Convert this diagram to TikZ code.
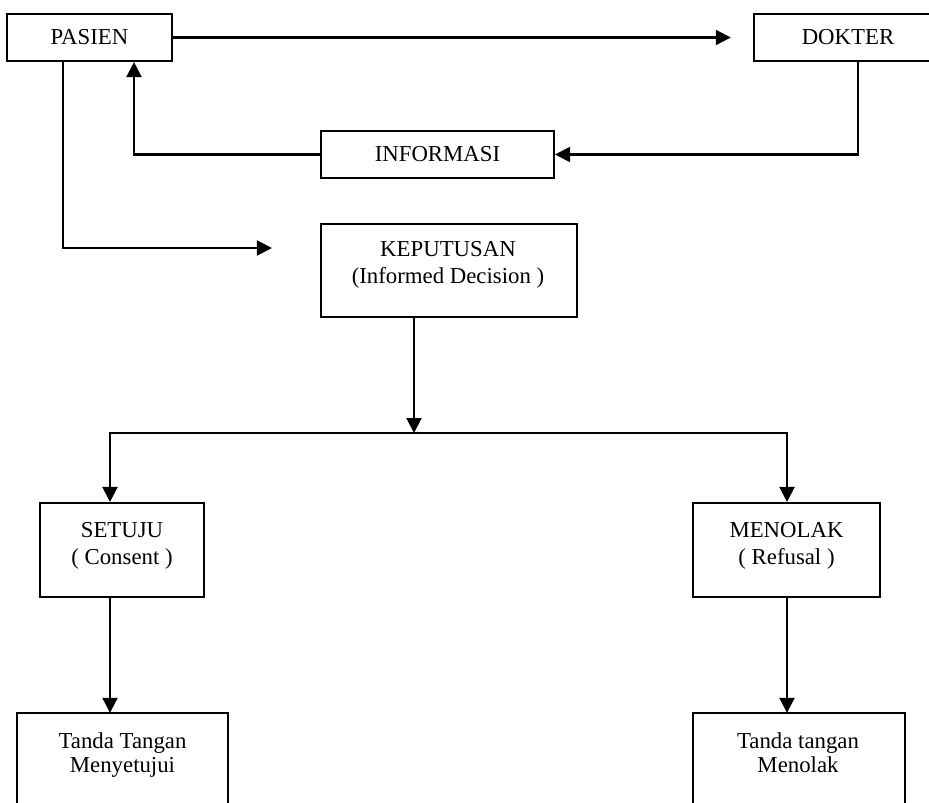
\documentclass[tikz,border=0pt]{standalone}
\usepackage{fontspec}
\setmainfont{Liberation Serif}
\usetikzlibrary{arrows.meta}
\begin{document}
\begin{tikzpicture}[x=1pt,y=-1pt,
  every node/.style={font=\fontsize{22.8}{27}\selectfont, inner sep=0pt, align=center},
  box/.style={draw, line width=2.1pt, rectangle},
  openbox/.style={rectangle},
  lbl/.style={},
  tight/.style={font=\fontsize{22.8}{23.5}\selectfont, anchor=north},
  line/.style={line width=2.1pt},
  arr/.style={line width=2.1pt, -{Triangle[length=15pt,width=15pt]}}]
\useasboundingbox[fill=white] (0,0) rectangle (929,803);

% boxes
\node[box, minimum width=165pt, minimum height=47pt] (pasien) at (89.5,37.5) {PASIEN};
\node[openbox, minimum width=175pt, minimum height=47pt] (dokter) at (841.5,37.5) {\hspace*{13pt}DOKTER};
\node[box, minimum width=233pt, minimum height=47pt] (informasi) at (437.5,154.5) {INFORMASI};
\node[box, minimum width=256pt, minimum height=93pt] (keputusan) at (449,270.5) {};
\node[box, minimum width=164pt, minimum height=94pt] (setuju) at (122,550) {};
\node[box, minimum width=187pt, minimum height=94pt] (menolak) at (786.5,550) {};
\node[openbox, minimum width=211pt, minimum height=90pt] (ttsetuju) at (122.5,758) {};
\node[openbox, minimum width=212pt, minimum height=90pt] (ttmenolak) at (799,758) {};

% texts of the boxes
\node[lbl] (keputusanlbl) at (448,265) {KEPUTUSAN\\(Informed Decision )};
\node[lbl] (setujulbl) at (122,546) {SETUJU\\( Consent )};
\node[lbl] (menolaklbl) at (786.5,546) {MENOLAK\\( Refusal )};
\node[lbl, tight] (ttsetujulbl) at (122.5,732.5) {Tanda Tangan\\Menyetujui};
\node[lbl, tight] (ttmenolaklbl) at (798,732.5) {Tanda tangan\\Menolak};

% open boxes (cut by the picture edge)
\draw[line] (dokter.north east) -- (dokter.north west) -- (dokter.south west) -- (dokter.south east);
\draw[line] (ttsetuju.south west) -- (ttsetuju.north west) -- (ttsetuju.north east) -- (ttsetuju.south east);
\draw[line] (ttmenolak.south west) -- (ttmenolak.north west) -- (ttmenolak.north east) -- (ttmenolak.south east);

\coordinate (split) at (414,433);

% connectors
\draw[arr] (pasien.east) -- ([xshift=-23pt]dokter.west);
\draw[arr] ([xshift=16.5pt]dokter.south) |- (informasi.east);
\draw[arr] (informasi.west) -| ([xshift=44.5pt]pasien.south);
\draw[arr] ([xshift=-26.5pt]pasien.south) |- ([xshift=-48pt,yshift=22.5pt]keputusan.west);
\draw[arr] ([xshift=-35pt]keputusan.south) -- (split);
\draw[arr] (split) -| ([xshift=-12pt]setuju.north);
\draw[arr] (split) -| ([xshift=0.5pt]menolak.north);
\draw[arr] ([xshift=-12pt]setuju.south) -- ([xshift=-12.5pt]ttsetuju.north);
\draw[arr] ([xshift=0.5pt]menolak.south) -- ([xshift=-12pt]ttmenolak.north);
\end{tikzpicture}
\end{document}
